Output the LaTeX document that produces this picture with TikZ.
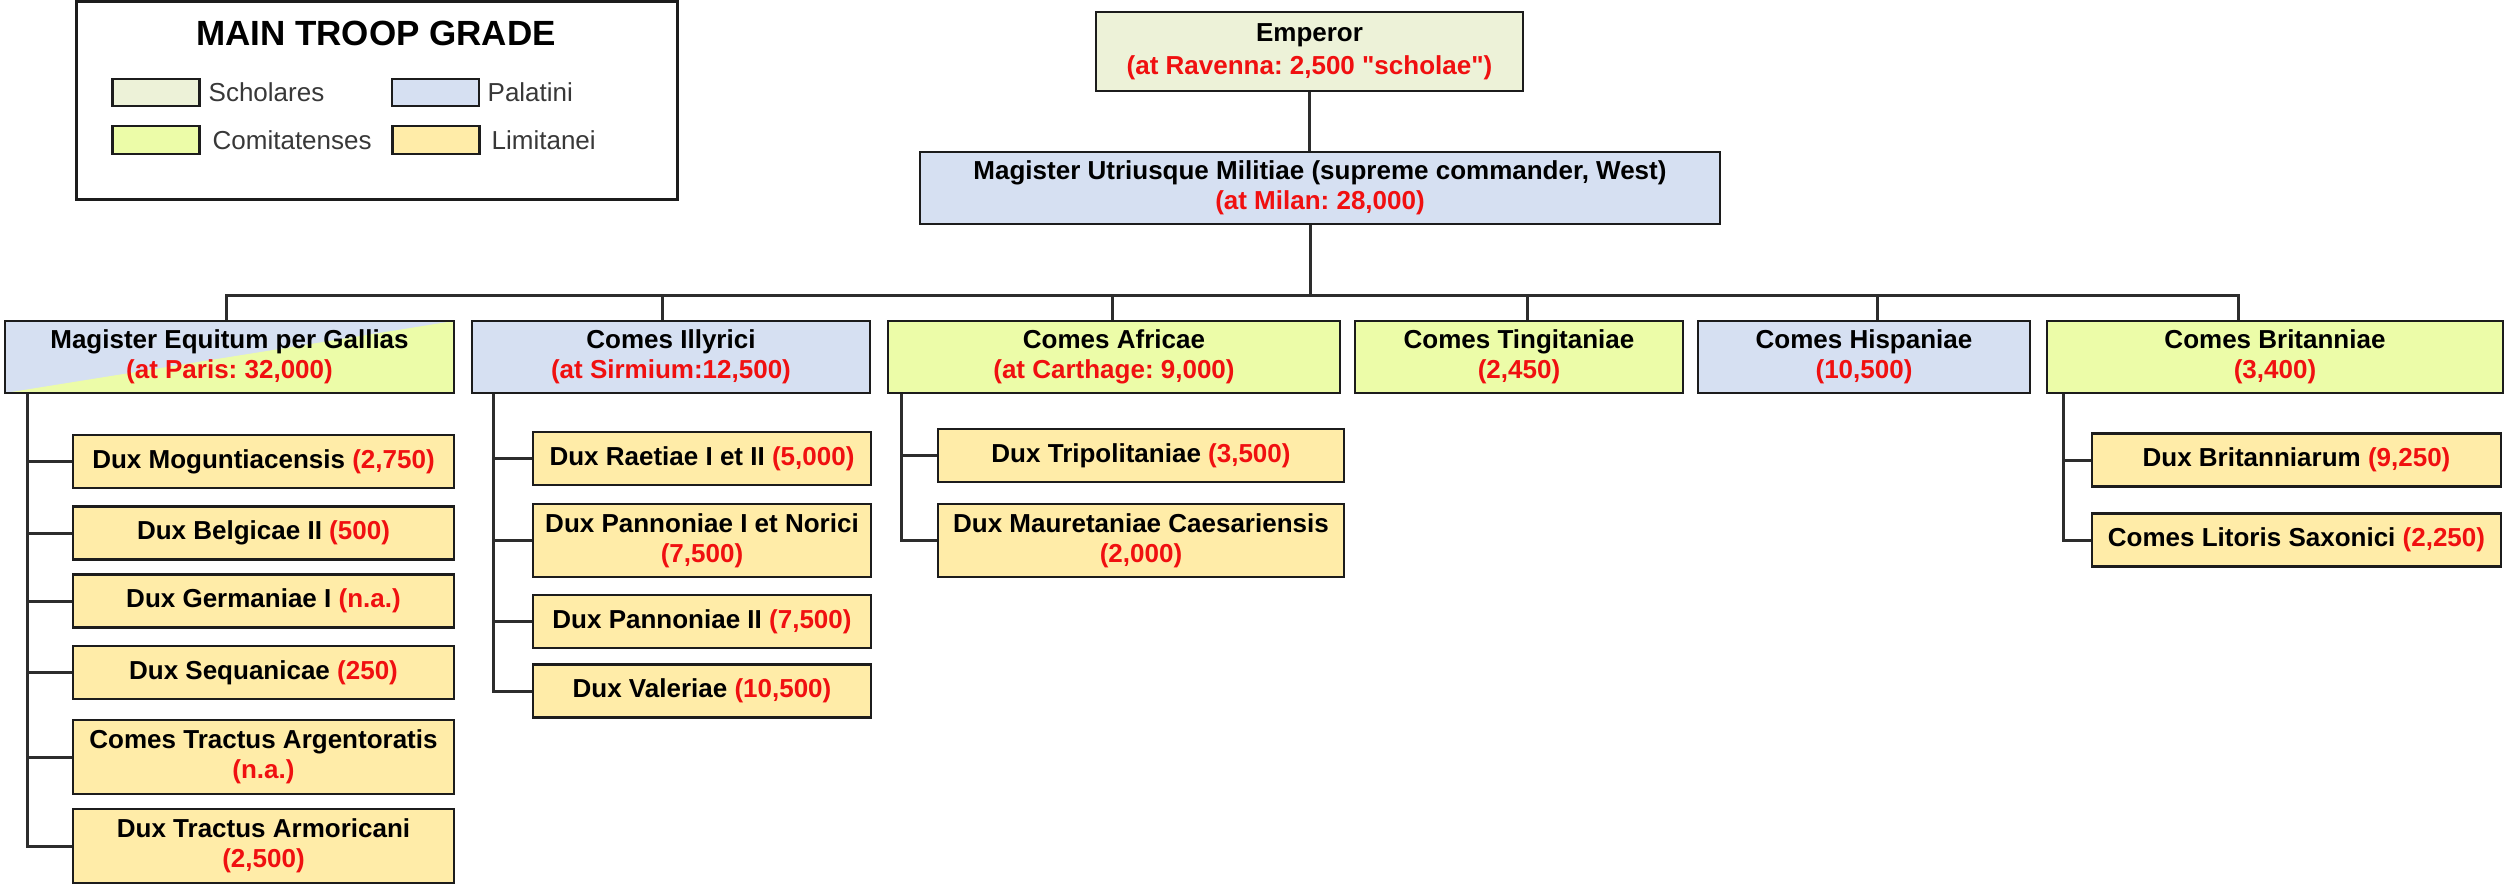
\documentclass[tikz,border=0pt]{standalone}
\usepackage{fontspec}
\setmainfont{Liberation Sans}
\newfontfamily\qfont{Liberation Sans}
\usepackage{tikz}
\usepackage{color}
\usetikzlibrary{calc}
\frenchspacing

\definecolor{scholfill}{RGB}{237,242,216}
\definecolor{palfill}{RGB}{214,224,242}
\definecolor{comfill}{RGB}{236,252,168}
\definecolor{limfill}{RGB}{255,236,168}
\definecolor{troopred}{RGB}{240,16,16}
\definecolor{boxline}{RGB}{28,28,28}
\definecolor{treeline}{RGB}{45,45,45}
\newcommand{\troops}[1]{\textcolor{troopred}{#1}}
\newcommand{\sq}{{\qfont\bfseries "}}
\def\pxu{0.3pt}

\begin{document}
\begin{tikzpicture}[x=\pxu,y=-\pxu,
  box/.style={draw=boxline,line width=0.8pt,inner sep=0pt,align=center,font=\bfseries\fontsize{7.8}{9}\selectfont},
  schbox/.style={box,fill=scholfill},
  palbox/.style={box,fill=palfill},
  combox/.style={box,fill=comfill},
  limbox/.style={box,fill=limfill,minimum height={53*\pxu}},
  swatch/.style={draw=boxline,line width=0.8pt,inner sep=0pt,minimum width={87*\pxu},minimum height={27*\pxu}},
  legtext/.style={anchor=west,inner sep=0pt,text=black!78,font=\fontsize{7.8}{9}\selectfont},
  tree/.style={draw=treeline,line width=0.9pt}]
 \useasboundingbox (0,0) rectangle (2509,886);

% legend for the troop grades
\begin{scope}
  \draw[boxline,line width=0.9pt] (76,1.5) rectangle (677,199);
  \node[font=\bfseries\fontsize{10.5}{12}\selectfont] (legtitle) at (376,33) {MAIN TROOP GRADE};
  \node[swatch,fill=scholfill] (swsch) at (156,92.5) {};
  \node[swatch,fill=palfill] (swpal) at (435.5,92.5) {};
  \node[swatch,fill=comfill,minimum height={28*\pxu}] (swcom) at (156,140) {};
  \node[swatch,fill=limfill,minimum height={28*\pxu}] (swlim) at (436,140) {};
  \node[legtext] (lsch) at (208,92.5) {Scholares};
  \node[legtext] (lpal) at (487,92.5) {Palatini};
  \node[legtext] (lcom) at (212,140) {Comitatenses};
  \node[legtext] (llim) at (491,140) {Limitanei};
\end{scope}

% top of the command
\node[schbox,font=\bfseries\fontsize{7.8}{10}\selectfont,minimum width={427*\pxu},minimum height={79*\pxu}] (emp) at (1309.5,51.5) {Emperor\\\troops{(at Ravenna: 2,500 \sq scholae\sq)}};
\node[palbox,minimum width={800*\pxu},minimum height={72*\pxu}] (mum) at (1320,188) {Magister Utriusque Militiae (supreme commander, West)\\\troops{(at Milan: 28,000)}};

% second level, split box for the Gallic army
\node[palbox,minimum width={449*\pxu},minimum height={72*\pxu},
  path picture={\fill[comfill] (path picture bounding box.south west) -- (path picture bounding box.north east) -- (path picture bounding box.south east) -- cycle;}]
  (meg) at (229.5,357) {Magister Equitum per Gallias\\\troops{(at Paris: 32,000)}};
\node[palbox,minimum width={398*\pxu},minimum height={72*\pxu}] (ill) at (671,357) {Comes Illyrici\\\troops{(at Sirmium:12,500)}};
\node[combox,minimum width={452*\pxu},minimum height={72*\pxu}] (afr) at (1114,357) {Comes Africae\\\troops{(at Carthage: 9,000)}};
\node[combox,minimum width={328*\pxu},minimum height={72*\pxu}] (tin) at (1519,357) {Comes Tingitaniae\\\troops{(2,450)}};
\node[palbox,minimum width={332*\pxu},minimum height={72*\pxu}] (his) at (1864,357) {Comes Hispaniae\\\troops{(10,500)}};
\node[combox,minimum width={456*\pxu},minimum height={72*\pxu}] (bri) at (2275,357) {Comes Britanniae\\\troops{(3,400)}};

% limitanei under each commander
\foreach \n/\yc/\h/\txt in {mog/461.5/53/{Dux Moguntiacensis \troops{(2,750)}},
    bel/533/53/{Dux Belgicae II \troops{(500)}},
    ger/601/53/{Dux Germaniae I \troops{(n.a.)}},
    seq/672.5/53/{Dux Sequanicae \troops{(250)}},
    arg/757/74/{Comes Tractus Argentoratis\\\troops{(n.a.)}},
    arm/846/74/{Dux Tractus Armoricani\\\troops{(2,500)}}}
  \node[limbox,minimum width={381*\pxu},minimum height={\h*\pxu}] (\n) at (263.5,\yc) {\txt};
\foreach \n/\yc/\h/\txt in {rae/458.5/53/{Dux Raetiae I et II \troops{(5,000)}},
    pno/540.5/73/{Dux Pannoniae I et Norici\\\troops{(7,500)}},
    pan/621.5/53/{Dux Pannoniae II \troops{(7,500)}},
    val/691/53/{Dux Valeriae \troops{(10,500)}}}
  \node[limbox,minimum width={338*\pxu},minimum height={\h*\pxu}] (\n) at (702,\yc) {\txt};
\foreach \n/\yc/\h/\txt in {tri/455.5/53/{Dux Tripolitaniae \troops{(3,500)}},
    mau/540.5/73/{Dux Mauretaniae Caesariensis\\\troops{(2,000)}}}
  \node[limbox,minimum width={406*\pxu},minimum height={\h*\pxu}] (\n) at (1141,\yc) {\txt};
\foreach \n/\yc/\h/\txt in {dbr/460/53/{Dux Britanniarum \troops{(9,250)}},
    lit/540/53/{Comes Litoris Saxonici \troops{(2,250)}}}
  \node[limbox,minimum width={409*\pxu},minimum height={\h*\pxu}] (\n) at (2296.5,\yc) {\txt};

% connectors from the top down
\coordinate (bus) at (1310,295);
\draw[tree] (emp.south) -- (emp.south |- mum.north);
\draw[tree] (mum.south -| bus) -- (bus);
\foreach \n/\x in {meg/226,ill/662,afr/1112,tin/1527,his/1877,bri/2238}{
  \coordinate (drop-\n) at (\x,295);
  \draw[tree] (drop-\n) -- (drop-\n |- \n.north);
}
\draw[tree,line cap=rect] (drop-meg) -- (drop-bri);

% trunks to the limitanei
\foreach \c in {mog,bel,ger,seq,arg,arm}
  \draw[tree] ([xshift=24*\pxu]meg.south west) |- (\c.west);
\foreach \c in {rae,pno,pan,val}
  \draw[tree] ([xshift=23*\pxu]ill.south west) |- (\c.west);
\foreach \c in {tri,mau}
  \draw[tree] ([xshift=15*\pxu]afr.south west) |- (\c.west);
\foreach \c in {dbr,lit}
  \draw[tree] ([xshift=18*\pxu]bri.south west) |- (\c.west);

\end{tikzpicture}
\end{document}
